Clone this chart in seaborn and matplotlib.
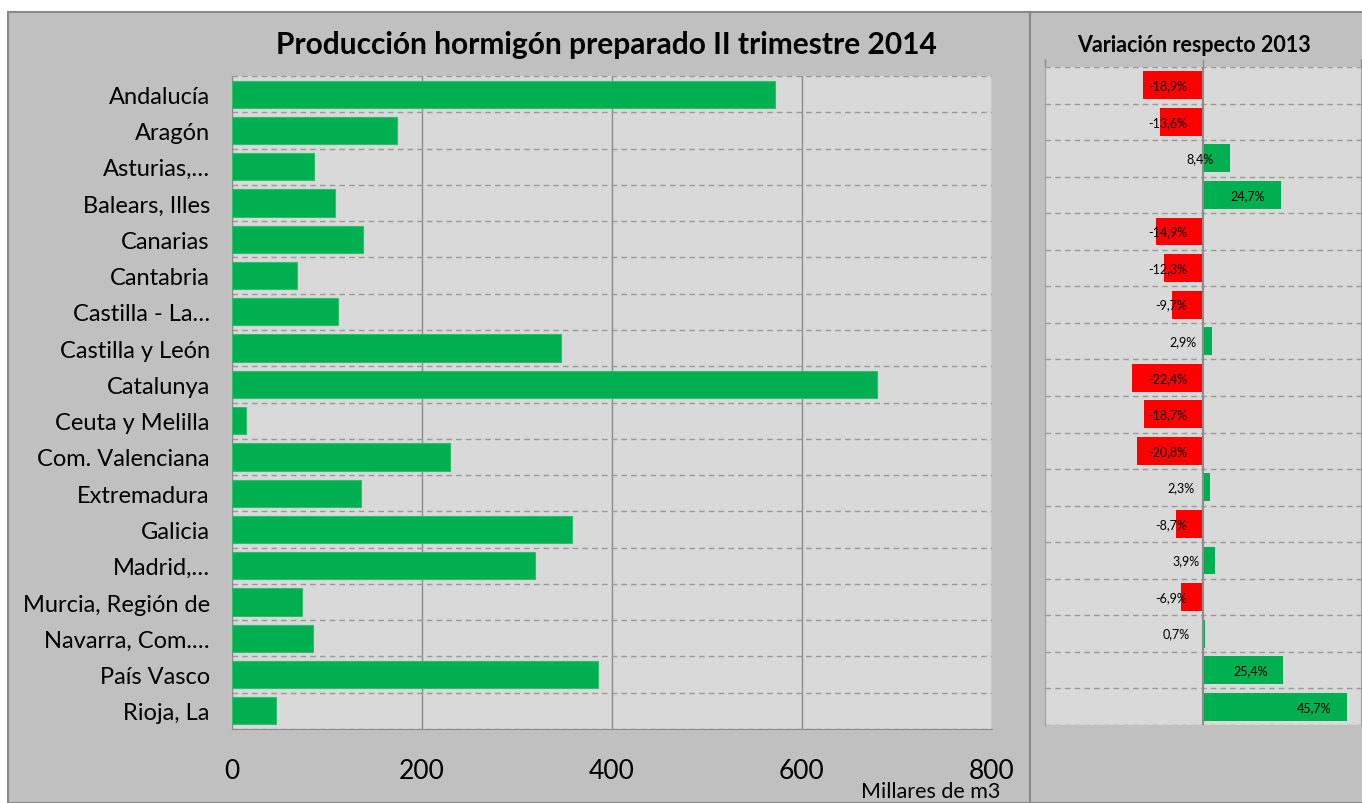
import matplotlib
matplotlib.use("Agg")
import matplotlib.pyplot as plt
from matplotlib.patches import Rectangle
import numpy as np
import pandas as pd
import seaborn as sns

regiones = ["Andalucía", "Aragón", "Asturias,…", "Balears, Illes", "Canarias",
            "Cantabria", "Castilla - La…", "Castilla y León", "Catalunya",
            "Ceuta y Melilla", "Com. Valenciana", "Extremadura", "Galicia",
            "Madrid,…", "Murcia, Región de", "Navarra, Com.…", "País Vasco",
            "Rioja, La"]
produccion = [572, 174, 86, 108, 138, 68, 112, 346, 679, 15, 229, 136, 358,
              319, 74, 85, 385, 46]
variacion = [-18.9, -13.6, 8.4, 24.7, -14.9, -12.3, -9.7, 2.9, -22.4, -18.7,
             -20.8, 2.3, -8.7, 3.9, -6.9, 0.7, 25.4, 45.7]
x_ticks = [0, 200, 400, 600, 800]

VERDE = "#00B050"
ROJO = "#FF0000"
PANEL = "#C0C0C0"
FONDO = "#D9D9D9"
GRID = "#8C8C8C"

sns.set_style("white")
plt.rcParams["font.family"] = ["Lato", "DejaVu Sans"]
plt.rcParams["text.color"] = "black"
plt.rcParams["xtick.labelcolor"] = "black"
plt.rcParams["ytick.labelcolor"] = "black"

df = pd.DataFrame({"region": regiones, "prod": produccion, "var": variacion})
df["signo"] = np.where(df["var"] < 0, "neg", "pos")
n = len(regiones)

fig = plt.figure(figsize=(13.62, 8.04), dpi=100)
W, H = 1362, 804

# panel backgrounds
fig.patches.append(Rectangle((8 / W, 0), (1030 - 8) / W, (804 - 13) / H,
                             transform=fig.transFigure, facecolor=PANEL,
                             edgecolor="#888888", lw=1.5, zorder=-5))
fig.patches.append(Rectangle((1030 / W, 0), (1362 - 1030) / W + 0.01, (804 - 13) / H,
                             transform=fig.transFigure, facecolor=PANEL,
                             edgecolor="#888888", lw=1.5, zorder=-5))

# ---- left chart
ax = fig.add_axes([232 / W, 1 - 730 / H, (992 - 232) / W, (730 - 77) / H])
ax.set_facecolor(FONDO)
sns.barplot(data=df, x="prod", y="region", color=VERDE, orient="h",
            width=0.75, saturation=1, edgecolor="#2DBE6C", linewidth=0.8,
            ax=ax, zorder=3)
ax.set_xlim(0, 800)
ax.set_ylim(n - 0.5, -0.5)
ax.set_xticks(x_ticks)
ax.set_xticklabels([str(t) for t in x_ticks], fontsize=19)
ax.set_yticks(np.arange(-0.5, n), minor=True)
ax.tick_params(axis="y", which="major", length=0, pad=16, labelsize=17)
ax.tick_params(axis="y", which="minor", length=6, color=GRID, width=1)
ax.tick_params(axis="x", length=9, color=GRID, width=1, pad=12)
ax.grid(axis="x", which="major", color=GRID, lw=1, zorder=0)
ax.grid(axis="y", which="minor", color="#999999", lw=1, ls=(0, (4, 3)), zorder=0)
ax.set_axisbelow(True)
for s in ["top", "right"]:
    ax.spines[s].set_visible(False)
for s in ["left", "bottom"]:
    ax.spines[s].set_color(GRID)
ax.set_xlabel("")
ax.set_ylabel("")
fig.text(606 / W, 1 - 45 / H, "Producción hormigón preparado II trimestre 2014",
         ha="center", va="center", fontsize=21.5, fontweight="bold")
fig.text(1000 / W, 1 - 792 / H, "Millares de m3", ha="right", va="center",
         fontsize=15.5)

# ---- right chart
ax2 = fig.add_axes([1045 / W, 1 - 726 / H, (1361 - 1045) / W, (726 - 68) / H])
ax2.set_facecolor(FONDO)
sns.barplot(data=df, x="var", y="region", hue="signo",
            palette={"neg": ROJO, "pos": VERDE}, dodge=False, orient="h",
            width=0.76, saturation=1, legend=False, edgecolor="none",
            ax=ax2, zorder=3)
ax2.set_xlim(-50, 50)
ax2.set_ylim(n - 0.5, -0.5)
ax2.set_yticks([])
ax2.set_yticks(np.arange(-0.5, n), minor=True)
ax2.tick_params(axis="y", which="minor", length=0)
ax2.grid(axis="y", which="minor", color="#999999", lw=1, ls=(0, (4, 3)), zorder=0)
ax2.xaxis.tick_top()
ax2.set_xticks([-50, 0, 50])
ax2.set_xticklabels([])
ax2.tick_params(axis="x", length=6, color=GRID, width=1)
ax2.axvline(0, color=GRID, lw=1.5, zorder=4)
for s in ["top", "bottom"]:
    ax2.spines[s].set_visible(False)
for s in ["left", "right"]:
    ax2.spines[s].set_color("#A0A0A0")
ax2.set_xlabel("")
ax2.set_ylabel("")
for i, v in enumerate(variacion):
    ax2.text(max(v, 0) - 5, i, f"{v:.1f}%".replace(".", ","), ha="right",
             va="center", fontsize=9, zorder=5)
fig.text(1194 / W, 1 - 46 / H, "Variación respecto 2013", ha="center",
         va="center", fontsize=15.5, fontweight="bold")

fig.savefig("out.png", dpi=100)
